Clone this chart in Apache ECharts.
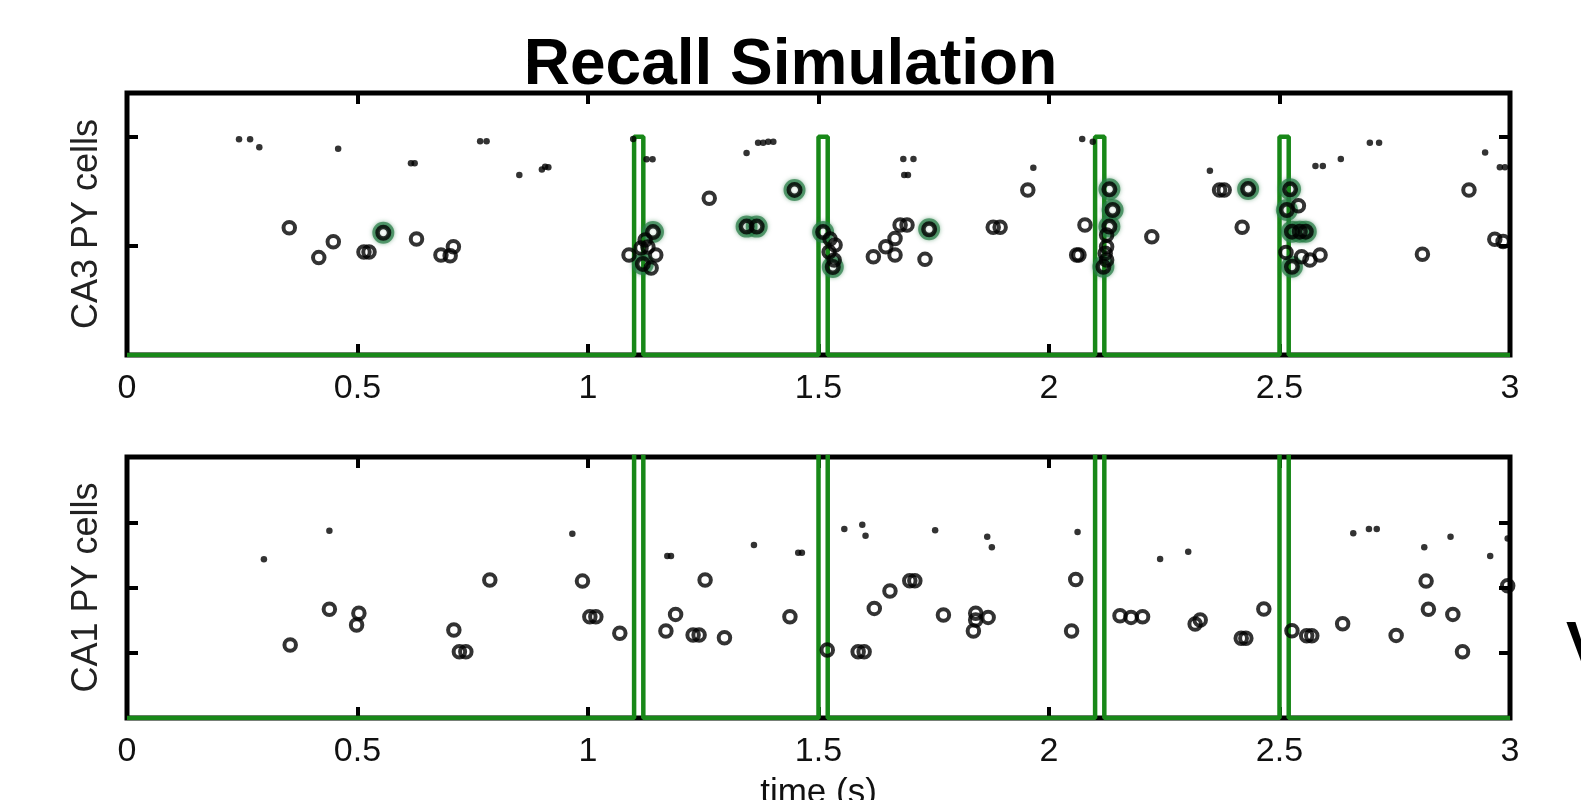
<!DOCTYPE html>
<html>
<head>
<meta charset="utf-8">
<script src="https://cdn.jsdelivr.net/npm/echarts@6/dist/echarts.min.js"></script>
<style>
html,body{margin:0;padding:0;background:#fff;}
#chart{width:1581px;height:800px;}
</style>
</head>
<body>
<div id="chart"></div>
<script>
// ---- data ----
const titleText = 'Recall Simulation';
const xTickLabels = ['0', '0.5', '1', '1.5', '2', '2.5', '3'];
const topYName = 'CA3 PY cells';
const bottomYName = 'CA1 PY cells';
const xName = 'time (s)';

// cue pulses (start, end) in seconds
const pulseStarts = [1.10, 1.50, 2.10, 2.50];
const pulseEnds   = [1.12, 1.52, 2.12, 2.52];
const pulseHeightTop = 100;
const pulseHeightBottom = 300;

// CA3 spikes: small dots
const ca3Dots = [
  [0.243,98.8],[0.267,98.8],[0.287,95.1],[0.458,94.5],[0.616,87.8],[0.624,87.8],
  [0.766,97.9],[0.780,97.9],[0.851,82.4],[0.900,85.0],[0.907,86.2],[0.914,86.0],
  [1.098,98.9],[1.127,89.6],[1.140,89.6],[1.344,92.5],[1.369,97.2],[1.380,97.2],
  [1.391,97.7],[1.402,97.7],[1.684,89.8],[1.706,89.8],[1.686,82.4],[1.694,82.4],
  [1.966,85.8],[2.072,98.9],[2.095,97.7],[2.349,84.4],[2.578,86.6],[2.594,86.6],
  [2.633,89.8],[2.696,97.2],[2.716,97.2],[2.946,92.8],[2.978,86.0],[2.989,86.0]
];
// CA3 spikes: circles
const ca3Circles = [
  [0.352,58.3],[0.4475,51.9],[0.416,44.6],[0.514,47.2],[0.525,47.2],[0.628,53.1],
  [0.681,45.8],[0.701,45.5],[0.708,49.6],
  [1.124,52.7],[1.115,49.0],[1.130,49.5],[1.089,45.8],[1.147,45.8],[1.137,39.8],
  [1.263,71.8],
  [1.525,53.1],[1.536,50.4],[1.523,47.2],[1.534,43.5],
  [1.619,45.0],[1.646,49.6],[1.666,53.4],[1.666,45.8],[1.677,59.5],[1.692,59.5],
  [1.731,43.8],[1.879,58.5],[1.894,58.5],[1.954,75.6],[2.078,59.5],[2.060,45.8],[2.065,45.8],
  [2.223,54.2],
  [2.125,55.0],[2.125,49.6],[2.122,46.6],[2.125,43.5],
  [2.370,75.6],[2.380,75.6],[2.419,58.5],
  [2.541,68.4],[2.514,47.0],[2.548,45.0],[2.566,43.5],[2.588,45.8],
  [2.810,46.1],[2.911,75.6],[2.967,53.0],[2.985,52.0]
];
// CA3 spikes: cued (green highlighted) circles
const ca3Cued = [
  [0.556,56.0],[1.141,56.3],[1.119,41.7],[1.344,58.8],[1.366,58.8],[1.448,75.6],
  [1.510,56.3],[1.531,40.3],[1.740,57.6],[2.131,75.9],[2.138,66.4],[2.131,58.8],
  [2.118,40.4],[2.432,76.0],[2.523,75.9],[2.516,66.4],[2.527,56.5],[2.544,56.5],
  [2.557,56.5],[2.527,40.4]
];
// CA1 spikes: small dots
const ca1Dots = [
  [0.297,121.7],[0.439,143.5],[0.966,141.2],[1.172,124.1],[1.180,124.1],[1.360,132.5],
  [1.456,126.6],[1.464,126.6],[1.556,144.8],[1.595,148.1],[1.602,139.6],[1.753,143.8],
  [1.866,138.9],[1.876,130.8],[2.062,142.5],[2.241,121.8],[2.302,127.4],[2.660,141.5],
  [2.694,144.8],[2.711,144.8],[2.814,130.8],[2.871,138.9],[2.957,124.1],[2.995,137.6]
];
// CA1 spikes: circles
const ca1Circles = [
  [0.354,55.9],[0.439,83.3],[0.503,80.2],[0.498,71.2],[0.709,67.4],[0.721,50.8],
  [0.735,50.8],[0.787,105.7],[0.988,104.9],[1.004,77.6],[1.017,77.6],[1.069,64.9],
  [1.190,79.4],[1.169,66.6],[1.228,63.6],[1.241,63.6],[1.296,61.5],[1.254,105.7],
  [1.438,77.6],[1.519,52.1],[1.586,50.8],[1.599,50.8],[1.621,84.0],[1.655,97.3],
  [1.698,105.2],[1.709,105.2],[1.771,78.9],[1.841,80.2],[1.841,75.1],[1.868,77.1],
  [1.836,66.6],[2.058,106.2],[2.049,66.6],
  [2.154,78.4],[2.178,77.1],[2.203,77.6],[2.317,72.0],[2.328,75.1],[2.417,61.1],
  [2.427,61.1],[2.466,83.5],[2.527,66.9],[2.559,63.1],[2.570,63.1],[2.637,72.2],
  [2.753,63.3],[2.818,104.9],[2.823,83.3],[2.876,79.4],[2.897,50.8],[2.995,101.3]
];

// ---- build pulse trace from the pulse arrays ----
function buildTrace(h) {
  const pts = [[0, 0]];
  for (let i = 0; i < pulseStarts.length; i++) {
    pts.push([pulseStarts[i], 0], [pulseStarts[i], h], [pulseEnds[i], h], [pulseEnds[i], 0]);
  }
  pts.push([3, 0]);
  return pts;
}

const FONT = "'Liberation Sans', Arial, Helvetica, sans-serif";
const GREEN = '#188818';
function tickStyle() {
  return { show: true, inside: true, length: 11, lineStyle: { color: '#000', width: 4 } };
}

function xAx(grid, pos, labels, name) {
  return {
    type: 'value', gridIndex: grid, position: pos, min: 0, max: 3, interval: 0.5,
    axisLine: { show: false, onZero: false }, splitLine: { show: false },
    axisTick: tickStyle(),
    axisLabel: {
      show: labels, margin: 17, color: '#111', fontSize: 34, fontFamily: FONT,
      formatter: function (v) { return xTickLabels[Math.round(v / 0.5)]; }
    },
    name: name || '', nameLocation: 'middle', nameGap: 58,
    nameTextStyle: { color: '#111', fontSize: 35, fontFamily: FONT }
  };
}
function yAx(grid, pos, max, name) {
  return {
    type: 'value', gridIndex: grid, position: pos, min: 0, max: max, interval: 50,
    axisLine: { show: false, onZero: false }, splitLine: { show: false },
    axisTick: tickStyle(), axisLabel: { show: false },
    name: name || '', nameLocation: 'middle', nameGap: 22,
    nameTextStyle: { color: '#222', fontSize: 36, fontFamily: FONT }
  };
}

const chart = echarts.init(document.getElementById('chart'), null, { renderer: 'canvas' });
chart.setOption({
  animation: false,
  backgroundColor: '#fff',
  title: {
    text: titleText, left: 'center', top: 29,
    textStyle: { fontSize: 64, fontWeight: 'bold', color: '#000', fontFamily: FONT }
  },
  grid: [
    { left: 127, top: 93, width: 1383, height: 262, show: true, borderColor: '#000', borderWidth: 5,
      backgroundColor: 'transparent', containLabel: false, outerBoundsMode: 'none' },
    { left: 127, top: 457, width: 1383, height: 261, show: true, borderColor: '#000', borderWidth: 5,
      backgroundColor: 'transparent', containLabel: false, outerBoundsMode: 'none' }
  ],
  xAxis: [
    xAx(0, 'bottom', true),
    xAx(0, 'top', false),
    xAx(1, 'bottom', true, xName),
    xAx(1, 'top', false)
  ],
  yAxis: [
    yAx(0, 'left', 120, topYName),
    yAx(0, 'right', 120),
    yAx(1, 'left', 200, bottomYName),
    yAx(1, 'right', 200)
  ],
  graphic: [{
    type: 'text', left: 1566, top: 616, z: 10,
    style: { text: 'V', fontSize: 60, fontWeight: 'bold', fill: '#000', fontFamily: FONT }
  }],
  series: [
    { type: 'line', xAxisIndex: 0, yAxisIndex: 0, data: buildTrace(pulseHeightTop), symbol: 'none',
      lineStyle: { color: GREEN, width: 4.5 }, z: 3 },
    { type: 'line', xAxisIndex: 2, yAxisIndex: 2, data: buildTrace(pulseHeightBottom), symbol: 'none',
      lineStyle: { color: GREEN, width: 4.5 }, z: 3 },
    { type: 'scatter', xAxisIndex: 0, yAxisIndex: 0, data: ca3Dots, symbol: 'circle', symbolSize: 6.5,
      itemStyle: { color: '#000' }, z: 4 },
    { type: 'scatter', xAxisIndex: 0, yAxisIndex: 0, data: ca3Cued, symbol: 'circle', symbolSize: 16,
      itemStyle: { color: 'rgba(0,0,0,0)', borderColor: 'rgba(40,125,70,0.9)', borderWidth: 6,
        shadowBlur: 4, shadowColor: 'rgba(40,125,70,0.7)' }, z: 4 },
    { type: 'scatter', xAxisIndex: 0, yAxisIndex: 0, data: ca3Cued, symbol: 'circle', symbolSize: 11.5,
      itemStyle: { color: 'rgba(0,0,0,0)', borderColor: '#000', borderWidth: 4.5 }, z: 5 },
    { type: 'scatter', xAxisIndex: 0, yAxisIndex: 0, data: ca3Circles, symbol: 'circle', symbolSize: 11.5,
      itemStyle: { color: 'rgba(0,0,0,0)', borderColor: '#000', borderWidth: 4 }, z: 5 },
    { type: 'scatter', xAxisIndex: 2, yAxisIndex: 2, data: ca1Dots, symbol: 'circle', symbolSize: 6.5,
      itemStyle: { color: '#000' }, z: 4 },
    { type: 'scatter', xAxisIndex: 2, yAxisIndex: 2, data: ca1Circles, symbol: 'circle', symbolSize: 11.5,
      itemStyle: { color: 'rgba(0,0,0,0)', borderColor: '#000', borderWidth: 4 }, z: 5 }
  ]
});
</script>
</body>
</html>
